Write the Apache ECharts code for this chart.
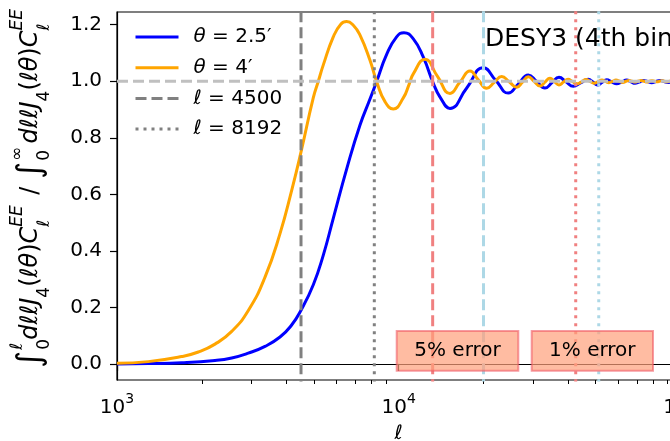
<!DOCTYPE html>
<html>
<head>
<meta charset="utf-8">
<script src="https://cdn.jsdelivr.net/npm/echarts@6/dist/echarts.min.js"></script>
<style>
  html, body { margin: 0; padding: 0; background: #ffffff; }
  #chart { width: 670px; height: 441px; }
</style>
</head>
<body>
<div id="chart"></div>
<script>
// Cumulative fraction of the xi_+ integral, theta = 2.5'
const ELL_THETA25 = [1000, 1291, 1697, 2228, 2554, 2925, 3353, 3790, 4150, 4501, 4976, 5400, 5858, 6538, 7289, 7908, 8355, 9063, 9831, 10440, 11270, 12230, 13270, 14020, 15210, 17440, 19970, 22110, 24490, 26580, 28850, 30900, 33060, 35010, 37070, 39250, 41660, 44380, 47100, 48950, 50780, 52680, 54750, 57030, 59410, 61890, 64470, 66780, 69000, 71290, 73840, 76420, 79090, 81920, 84640, 87450, 90360, 93360, 96470, 100000];
const FRAC_THETA25 = [0.000, 0.001, 0.004, 0.012, 0.021, 0.038, 0.062, 0.095, 0.135, 0.190, 0.280, 0.385, 0.515, 0.690, 0.845, 0.937, 1.000, 1.095, 1.157, 1.172, 1.150, 1.085, 0.993, 0.944, 0.904, 0.976, 1.048, 1.003, 0.958, 0.990, 1.022, 0.999, 0.976, 0.995, 1.014, 0.998, 0.982, 0.995, 1.007, 0.997, 0.987, 0.996, 1.005, 0.998, 0.991, 0.997, 1.004, 0.998, 0.993, 0.997, 1.003, 0.999, 0.995, 0.999, 1.003, 0.999, 0.996, 0.999, 1.002, 1.000];

// Cumulative fraction, theta = 4'
const ELL_THETA4 = [1000, 1291, 1697, 1944, 2228, 2554, 2925, 3353, 3790, 4172, 4501, 4976, 5184, 5400, 5858, 6230, 6537, 6900, 7289, 7908, 8355, 8940, 9568, 10383, 10896, 11267, 12398, 13731, 15208, 16507, 17911, 19168, 20531, 21827, 23206, 24675, 26236, 27511, 28845, 30219, 31738, 33059, 34438, 35730, 37068, 38462, 39902, 41397, 42947, 44557, 46226, 47764, 49352, 50992, 52681, 54214, 55788, 57406, 59068, 60782, 62549, 64104, 65694, 67324, 68998, 70712, 72467, 74264, 76108, 77680, 79283, 80920, 82591, 84297, 86037, 87812, 89625, 91476, 93355, 100000];
const FRAC_THETA4 = [0.002, 0.008, 0.026, 0.042, 0.070, 0.115, 0.189, 0.307, 0.461, 0.615, 0.750, 0.942, 1.000, 1.058, 1.157, 1.202, 1.211, 1.198, 1.163, 1.074, 0.998, 0.928, 0.902, 0.941, 0.990, 1.026, 1.078, 1.017, 0.957, 0.997, 1.036, 1.005, 0.975, 0.996, 1.017, 0.998, 0.979, 0.997, 1.016, 1.000, 0.983, 0.997, 1.011, 0.999, 0.987, 0.997, 1.007, 0.999, 0.991, 0.998, 1.006, 0.9995, 0.993, 0.9985, 1.004, 0.9995, 0.995, 0.9995, 1.004, 1.000, 0.996, 1.000, 1.003, 1.000, 0.997, 1.000, 1.003, 1.000, 0.997, 1.000, 1.002, 1.000, 0.998, 1.000, 1.002, 1.000, 0.998, 1.000, 1.001, 1.000];

// Reference multipoles
const ELL_CUT_4500 = 4500;
const ELL_CUT_8192 = 8192;
const ELL_5PCT = [13200, 20000];   // red, light blue (dashed)
const ELL_1PCT = [42500, 51300];   // red, light blue (dotted)

// Axis ticks
const X_MAJOR = [1000, 10000, 100000];
const X_MINOR = [2000, 3000, 4000, 5000, 6000, 7000, 8000, 9000, 20000, 30000, 40000, 50000, 60000, 70000, 80000, 90000];
const Y_TICKS = [0.0, 0.2, 0.4, 0.6, 0.8, 1.0, 1.2];

const X_MIN = 1000, X_MAX = 100000;
const Y_MIN = -0.057, Y_MAX = 1.245;

const FONT = 'DejaVu Sans';
const DASH = [11, 5];
const DOT = [3, 5];

const zip = (xs, ys) => xs.map((x, i) => [x, ys[i]]);
const vline = (x) => [[x, -10], [x, 10]];

const GRID = { left: 117, top: 12, width: 563.4, height: 368 };

const LEGEND_TEXT = {
  t25: '{i|θ}{n| = 2.5′}',
  t4: '{i|θ}{n| = 4′}',
  l4500: '{i|ℓ}{n| = 4500}',
  l8192: '{i|ℓ}{n| = 8192}'
};

const chart = echarts.init(document.getElementById('chart'), null, { renderer: 'canvas' });

const yTitle =
  '{int|∫}{sb0|0}{sp|ℓ}{m|dℓℓJ}{sb|4}{u|(}{m|ℓθ}{u|)}{m|C}{sbz|ℓ}{sp|EE}' +
  '{u| / }' +
  '{int|∫}{sb0|0}{sp|∞}{m|dℓℓJ}{sb|4}{u|(}{m|ℓθ}{u|)}{m|C}{sbz|ℓ}{sp|EE}';

const option = {
  animation: false,
  backgroundColor: '#ffffff',
  grid: Object.assign({ show: true, borderColor: '#000', borderWidth: 1.2, backgroundColor: 'transparent', outerBoundsMode: 'none', containLabel: false }, GRID),
  legend: {
    left: 129, top: 22, orient: 'vertical',
    itemWidth: 43, itemHeight: 14, itemGap: 10.7,
    data: ['t25', 't4', 'l4500', 'l8192'],
    formatter: (name) => LEGEND_TEXT[name],
    lineStyle: { width: 3 },
    itemStyle: { color: 'rgba(0,0,0,0)', borderWidth: 0, borderColor: 'rgba(0,0,0,0)' },
    textStyle: {
      fontFamily: FONT, fontSize: 20, color: '#000', padding: [0, 0, 0, 10],
      rich: {
        i: { fontFamily: FONT, fontSize: 20, fontStyle: 'italic', color: '#000' },
        n: { fontFamily: FONT, fontSize: 20, color: '#000' }
      }
    }
  },
  xAxis: [
    {
      type: 'log', logBase: 10, min: X_MIN, max: X_MAX,
      name: 'ℓ', nameLocation: 'middle', nameGap: 44,
      nameTextStyle: { fontFamily: FONT, fontSize: 20, fontStyle: 'italic', color: '#000' },
      axisLine: { show: true, lineStyle: { color: '#000', width: 1.2 } },
      axisTick: { show: true, length: 7, lineStyle: { color: '#000', width: 1.2 }, customValues: X_MAJOR },
      axisLabel: {
        customValues: X_MAJOR, margin: 12, color: '#000',
        formatter: (v) => '{b|10}{s|' + Math.round(Math.log10(v)) + '}',
        rich: {
          b: { fontFamily: FONT, fontSize: 20, color: '#000', lineHeight: 26, verticalAlign: 'bottom' },
          s: { fontFamily: FONT, fontSize: 14, color: '#000', lineHeight: 14, verticalAlign: 'top' }
        }
      },
      splitLine: { show: false }
    },
    {
      // minor ticks of the log axis, moved onto the bottom spine
      type: 'log', logBase: 10, min: X_MIN, max: X_MAX, position: 'top', offset: -GRID.height,
      axisLine: { show: false },
      axisTick: { show: true, inside: true, length: 4, lineStyle: { color: '#000', width: 1 }, customValues: X_MINOR },
      axisLabel: { show: false },
      splitLine: { show: false }
    }
  ],
  yAxis: {
    type: 'value', min: Y_MIN, max: Y_MAX,
    axisLine: { show: true, lineStyle: { color: '#000', width: 1.2 } },
    axisTick: { show: true, length: 7, lineStyle: { color: '#000', width: 1.2 }, customValues: Y_TICKS },
    axisLabel: {
      customValues: Y_TICKS, margin: 15, color: '#000', fontFamily: FONT, fontSize: 20,
      formatter: (v) => v.toFixed(1)
    },
    splitLine: { show: false }
  },
  series: [
    {
      name: 't25', type: 'line', data: zip(ELL_THETA25, FRAC_THETA25), smooth: 0.5,
      symbol: 'none', lineStyle: { color: '#0000ff', width: 3 }, itemStyle: { color: '#0000ff' }, z: 3
    },
    {
      name: 't4', type: 'line', data: zip(ELL_THETA4, FRAC_THETA4), smooth: 0.5,
      symbol: 'none', lineStyle: { color: '#ffa500', width: 3 }, itemStyle: { color: '#ffa500' }, z: 4
    },
    {
      name: 'l4500', type: 'line', data: vline(ELL_CUT_4500), symbol: 'none',
      lineStyle: { color: '#808080', width: 3, type: DASH }, itemStyle: { color: '#808080' }, z: 5
    },
    {
      name: 'l8192', type: 'line', data: vline(ELL_CUT_8192), symbol: 'none',
      lineStyle: { color: '#808080', width: 3, type: DOT }, itemStyle: { color: '#808080' }, z: 5
    },
    {
      name: 'unity', type: 'line', data: [[X_MIN, 1], [X_MAX, 1]], symbol: 'none',
      lineStyle: { color: '#c0c0c0', width: 3, type: DASH }, z: 5
    },
    {
      name: 'p5a', type: 'line', data: vline(ELL_5PCT[0]), symbol: 'none',
      lineStyle: { color: '#f08080', width: 3, type: DASH }, z: 5
    },
    {
      name: 'p5b', type: 'line', data: vline(ELL_5PCT[1]), symbol: 'none',
      lineStyle: { color: '#add8e6', width: 3, type: DASH }, z: 5
    },
    {
      name: 'p1a', type: 'line', data: vline(ELL_1PCT[0]), symbol: 'none',
      lineStyle: { color: '#f08080', width: 3, type: DOT }, z: 5
    },
    {
      name: 'p1b', type: 'line', data: vline(ELL_1PCT[1]), symbol: 'none',
      lineStyle: { color: '#add8e6', width: 3, type: DOT }, z: 5
    }
  ],
  graphic: [
    {
      type: 'text', x: 485, y: 39, z: 100,
      style: { text: 'DESY3 (4th bin)', fontFamily: FONT, fontSize: 25, fill: '#000', align: 'left', verticalAlign: 'middle' }
    },
    {
      type: 'group', z: 100, children: [
        { type: 'rect', shape: { x: 396.7, y: 331, width: 121.6, height: 39.7 },
          style: { fill: 'rgba(255,160,122,0.7)', stroke: 'rgba(240,90,100,0.6)', lineWidth: 2 }, z: 100 },
        { type: 'text', x: 457.5, y: 351, z: 101,
          style: { text: '5% error', fontFamily: FONT, fontSize: 20, fill: '#000', align: 'center', verticalAlign: 'middle' } },
        { type: 'rect', shape: { x: 531.7, y: 331, width: 121.3, height: 39.7 },
          style: { fill: 'rgba(255,160,122,0.7)', stroke: 'rgba(240,90,100,0.6)', lineWidth: 2 }, z: 100 },
        { type: 'text', x: 592.3, y: 351, z: 101,
          style: { text: '1% error', fontFamily: FONT, fontSize: 20, fill: '#000', align: 'center', verticalAlign: 'middle' } }
      ]
    },
    {
      type: 'text', x: 31, y: 368, rotation: Math.PI / 2, z: 100,
      style: {
        text: yTitle, align: 'left', verticalAlign: 'middle', fill: '#000',
        fontFamily: FONT, fontSize: 24,
        rich: {
          m: { fontFamily: FONT, fontSize: 24, fontStyle: 'italic', lineHeight: 44, fill: '#000' },
          u: { fontFamily: FONT, fontSize: 24, lineHeight: 44, fill: '#000' },
          int: { fontFamily: FONT, fontSize: 33, lineHeight: 44, fill: '#000', padding: [0, 1, 0, 0] },
          sb0: { fontFamily: FONT, fontSize: 17, lineHeight: 18, verticalAlign: 'bottom', width: 0, fill: '#000' },
          sb: { fontFamily: FONT, fontSize: 17, lineHeight: 18, verticalAlign: 'bottom', fill: '#000' },
          sbz: { fontFamily: FONT, fontSize: 17, fontStyle: 'italic', lineHeight: 18, verticalAlign: 'bottom', width: 0, fill: '#000' },
          sp: { fontFamily: FONT, fontSize: 17, fontStyle: 'italic', lineHeight: 18, verticalAlign: 'top', fill: '#000', padding: [0, 3, 0, 0] }
        }
      }
    }
  ]
};

chart.setOption(option);
</script>
</body>
</html>
